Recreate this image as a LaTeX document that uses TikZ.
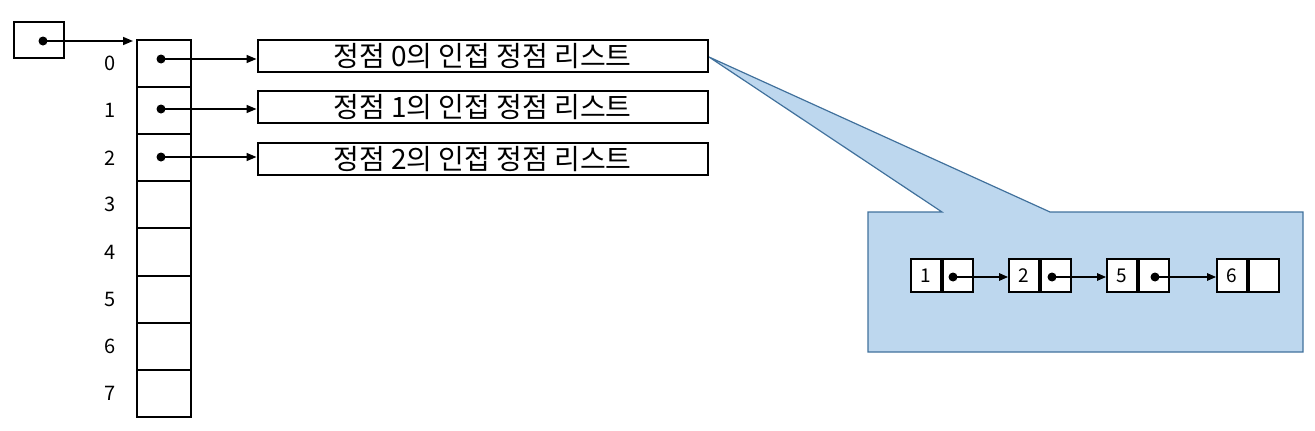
\documentclass[tikz,border=0pt]{standalone}
\usepackage{fontspec}
\setmainfont{Noto Sans CJK KR}
\usetikzlibrary{arrows.meta}
\definecolor{calloutfill}{HTML}{BDD7EE}
\definecolor{calloutdraw}{HTML}{41719C}
\tikzset{
  box/.style={draw=black, line width=2pt, inner sep=0pt},
  cell/.style={box, minimum width=54pt, minimum height=47.1pt},
  listbox/.style={box, minimum width=450pt, minimum height=32pt, font=\fontsize{28}{30}\selectfont},
  idx/.style={font=\fontsize{20}{22}\selectfont},
  half/.style={draw=black, line width=1.9pt, fill=white, inner sep=0pt, minimum width=30pt, minimum height=33pt, font=\fontsize{19}{21}\selectfont},
  ptr/.style={line width=1.6pt, -{Triangle[length=10pt,width=8pt]}},
  sptr/.style={line width=1.5pt, -{Triangle[length=9pt,width=7.5pt]}},
  dotc/.style={circle, fill=black, inner sep=0pt, minimum size=9pt},
}
\begin{document}
\begin{tikzpicture}[x=1pt, y=-1pt]
\useasboundingbox (0,0) rectangle (1315,431);
% callout
\path[fill=calloutfill, draw=calloutdraw, line width=1.2pt]
  (868,212) -- (942,212) -- (709,57) -- (1050,212) -- (1303,212) -- (1303,352) -- (868,352) -- cycle;
% head pointer box
\node[box, minimum width=50pt, minimum height=36pt] (h) at (39,40) {};
\node[dotc] (hd) at (43,41) {};
\coordinate (htip) at (133,41);
\draw[ptr] (hd.center) -- (htip);
% array
\foreach \i in {0,...,7} {
  \node[cell] (a\i) at (164,{40+23.55+47.1*\i}) {};
  \node[idx] (n\i) at (110,{40+23.55+47.1*\i}) {\i};
}
% list boxes
\node[listbox] (l0) at (482.5,56) {정점 0의 인접 정점 리스트};
\node[listbox] (l1) at (482.5,107) {정점 1의 인접 정점 리스트};
\node[listbox] (l2) at (482.5,159) {정점 2의 인접 정점 리스트};
\foreach \i/\y in {0/59,1/109,2/157} {
  \node[dotc] (d\i) at (161,\y) {};
  \draw[ptr] (d\i.center) -- (d\i.center -| l\i.west);
}
% linked list
\foreach \k/\v/\x in {1/1/926,2/2/1024,3/5/1122,4/6/1232} {
  \node[half] (v\k) at (\x,275.5) {\v};
  \node[half, anchor=west] (p\k) at (v\k.east) {};
}
\foreach \k/\x in {1/953,2/1052,3/1155} {
  \node[dotc] (q\k) at (\x,277) {};
}
\draw[sptr] (q1.center) -- (q1.center -| v2.west);
\draw[sptr] (q2.center) -- (q2.center -| v3.west);
\draw[sptr] (q3.center) -- (q3.center -| v4.west);
\end{tikzpicture}
\end{document}
